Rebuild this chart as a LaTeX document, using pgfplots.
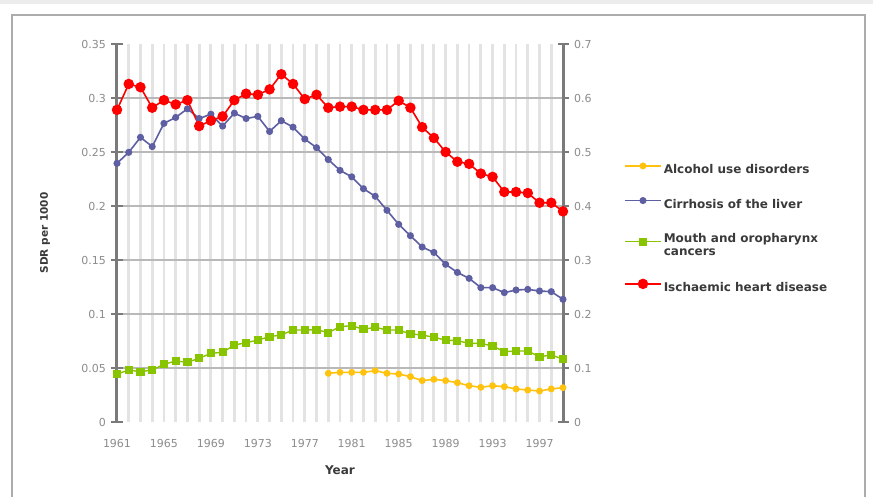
\documentclass[border=0pt]{standalone}
\usepackage{fontspec}
\setmainfont{DejaVu Sans}
\usepackage{pgfplots}
\usepackage{pgfplotstable}
\pgfplotsset{compat=1.18}
\definecolor{cAlc}{HTML}{FFC20E}
\definecolor{cCir}{HTML}{5E5EA2}
\definecolor{cMou}{HTML}{88C400}
\definecolor{cIsc}{HTML}{FF0000}
\definecolor{axgray}{HTML}{7A7A7A}
\definecolor{txtgray}{HTML}{8C8C8C}
\definecolor{lbl}{HTML}{3A3A3A}

\pgfplotstableread{
year alc cir mou isc
1961 nan 0.2395 0.0444 0.289
1962 nan 0.2497 0.0481 0.313
1963 nan 0.2636 0.0466 0.310
1964 nan 0.2550 0.0481 0.291
1965 nan 0.2765 0.0534 0.298
1966 nan 0.2820 0.0565 0.294
1967 nan 0.2900 0.0553 0.298
1968 nan 0.2810 0.0590 0.274
1969 nan 0.2850 0.0636 0.279
1970 nan 0.2740 0.0645 0.283
1971 nan 0.2860 0.0713 0.298
1972 nan 0.2810 0.0734 0.304
1973 nan 0.2830 0.0759 0.303
1974 nan 0.2690 0.0790 0.308
1975 nan 0.2790 0.0806 0.322
1976 nan 0.2730 0.0852 0.313
1977 nan 0.2620 0.0852 0.299
1978 nan 0.2540 0.0855 0.303
1979 0.0451 0.2430 0.0827 0.291
1980 0.0460 0.2330 0.0883 0.292
1981 0.0460 0.2270 0.0892 0.292
1982 0.0460 0.2160 0.0858 0.289
1983 0.0475 0.2090 0.0877 0.289
1984 0.0451 0.1960 0.0852 0.289
1985 0.0444 0.1830 0.0852 0.2975
1986 0.0420 0.1725 0.0815 0.291
1987 0.0383 0.1620 0.0806 0.273
1988 0.0395 0.1570 0.0784 0.263
1989 0.0383 0.1460 0.0759 0.250
1990 0.0364 0.1385 0.0753 0.241
1991 0.0336 0.1330 0.0728 0.239
1992 0.0321 0.1244 0.0728 0.230
1993 0.0336 0.1244 0.0704 0.227
1994 0.0327 0.1198 0.0651 0.213
1995 0.0306 0.1222 0.0657 0.213
1996 0.0296 0.1228 0.0657 0.212
1997 0.0287 0.1213 0.0605 0.203
1998 0.0306 0.1207 0.0620 0.203
1999 0.0318 0.1136 0.0583 0.195
}\datatab

\begin{document}
\begin{tikzpicture}[x=1pt,y=1pt]
\useasboundingbox (0,0) rectangle (873,-497);
\clip (0,0) rectangle (873,-497);
\fill[white] (0,0) rectangle (873,-497);
\fill[gray!15] (0,0) rectangle (873,-4);
\draw[gray!65, line width=2.5pt] (12,-520) -- (12,-15) -- (865,-15) -- (865,-520);

% right axis
\begin{axis}[
  at={(117pt,-422pt)}, anchor=south west,
  scale only axis, width=446pt, height=378pt,
  xmin=1961, xmax=1999, ymin=0, ymax=0.7,
  axis x line=none, axis y line*=right,
  y axis line style={line width=3pt, color=axgray},
  ytick={0,0.1,0.2,0.3,0.4,0.5,0.6,0.7},
  yticklabels={0,0.1,0.2,0.3,0.4,0.5,0.6,0.7},
  tick align=center, major tick length=11pt,
  ytick style={line width=1.6pt, color=axgray},
  yticklabel style={font=\fontsize{11}{13}\selectfont, color=txtgray, xshift=2pt},
]
\end{axis}

\begin{axis}[
  at={(117pt,-422pt)}, anchor=south west,
  scale only axis, width=446pt, height=378pt,
  xmin=1961, xmax=1999, ymin=0, ymax=0.35,
  clip=false,
  separate axis lines,
  x axis line style={draw=none},
  y axis line style={line width=3pt, color=axgray},
  ytick pos=left,
  ytick={0,0.05,0.1,0.15,0.2,0.25,0.3,0.35},
  yticklabels={0,0.05,0.1,0.15,0.2,0.25,0.3,0.35},
  minor ytick={0.05,0.1,0.15,0.2,0.25,0.3},
  yminorgrids, minor y grid style={line width=1.3pt, color=gray!55},
  xtick={1961,1965,1969,1973,1977,1981,1985,1989,1993,1997},
  xticklabels={1961,1965,1969,1973,1977,1981,1985,1989,1993,1997},
  minor xtick={1961,1962,...,1999},
  xminorgrids, minor x grid style={line width=2.8pt, color=gray!22},
  minor tick length=0pt,
  xtick style={draw=none},
  tick align=center, major tick length=11pt,
  ytick style={line width=1.6pt, color=axgray},
  yticklabel style={font=\fontsize{11}{13}\selectfont, color=txtgray, xshift=-2pt},
  xticklabel style={font=\fontsize{11}{13}\selectfont, color=txtgray, yshift=-8pt},
  xlabel={Year},
  xlabel style={font=\bfseries\fontsize{12}{14}\selectfont, color=lbl, at={(axis description cs:0.5,-0.127)}, anchor=center},
  ylabel={SDR per 1000},
  ylabel style={font=\bfseries\fontsize{10.5}{12}\selectfont, color=lbl, at={(axis description cs:-0.1614,0.5)}, anchor=center},
  legend style={at={(axis description cs:1.13,0.692)}, anchor=north west, draw=none, fill=none,
    font=\bfseries\fontsize{12}{13}\selectfont, text=lbl, row sep=20pt,
    cells={anchor=base west, align=left}},
  legend cell align=left,
  legend image code/.code={\draw[mark repeat=2,mark phase=2] plot coordinates {(0pt,4pt)(18pt,4pt)(36pt,4pt)};},
]
\addplot[color=cAlc, line width=1.6pt, mark=*, mark size=2.6pt] table[x=year, y=alc] {\datatab};
\addlegendentry{Alcohol use disorders}
\addplot[color=cCir, line width=1.6pt, mark=*, mark size=2.7pt] table[x=year, y=cir] {\datatab};
\addlegendentry{Cirrhosis of the liver}
\addplot[color=cMou, line width=1.4pt, mark=square*, mark size=3.4pt] table[x=year, y=mou] {\datatab};
\addlegendentry{Mouth and oropharynx\\cancers}
\addplot[color=cIsc, line width=1.6pt, mark=*, mark size=4.4pt] table[x=year, y=isc] {\datatab};
\addlegendentry{Ischaemic heart disease}
\end{axis}
\end{tikzpicture}
\end{document}
